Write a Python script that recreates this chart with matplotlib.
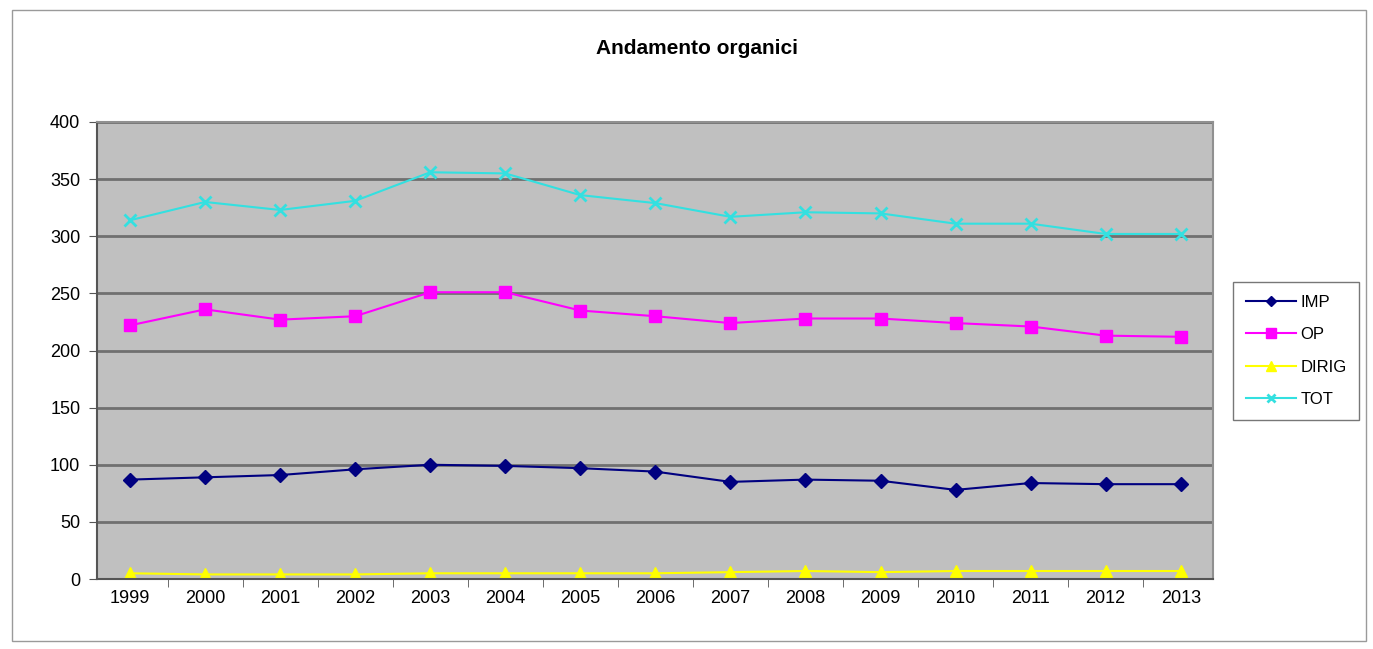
import matplotlib.pyplot as plt
from matplotlib.ticker import FixedLocator

years = ["1999", "2000", "2001", "2002", "2003", "2004", "2005", "2006",
         "2007", "2008", "2009", "2010", "2011", "2012", "2013"]
imp = [87, 89, 91, 96, 100, 99, 97, 94, 85, 87, 86, 78, 84, 83, 83]
op = [222, 236, 227, 230, 251, 251, 235, 230, 224, 228, 228, 224, 221, 213, 212]
dirig = [5, 4, 4, 4, 5, 5, 5, 5, 6, 7, 6, 7, 7, 7, 7]
tot = [314, 330, 323, 331, 356, 355, 336, 329, 317, 321, 320, 311, 311, 302, 302]


def main() -> None:
    plt.rcParams['font.family'] = ['Liberation Sans', 'DejaVu Sans']
    fig = plt.figure(figsize=(13.73, 6.49), dpi=100)
    W, H = 1373, 649
    ax = fig.add_axes([97 / W, 1 - 579 / H, (1213 - 97) / W, (579 - 122) / H])

    # outer chart border
    fig.patches.append(plt.Rectangle((12 / W, 1 - 641 / H), 1354 / W, 631 / H,
                                     transform=fig.transFigure, fill=False,
                                     edgecolor="#9a9a9a", linewidth=1.0))

    x = list(range(len(years)))
    ax.set_facecolor("#c0c0c0")
    ax.plot(x, imp, color="#000080", marker="D", markersize=7, linewidth=1.5, label="IMP")
    ax.plot(x, op, color="#ff00ff", marker="s", markersize=9, linewidth=1.5, label="OP")
    ax.plot(x, dirig, color="#ffff00", marker="^", markersize=9, linewidth=1.5, label="DIRIG")
    ax.plot(x, tot, color="#33e0e0", marker="x", markersize=8, markeredgewidth=2,
            linewidth=1.5, label="TOT")

    ax.set_xlim(-0.44, 14.43)
    ax.set_ylim(0, 400)
    ax.set_yticks(range(0, 401, 50))
    ax.set_xticks(x)
    ax.set_xticklabels(years)
    ax.xaxis.set_minor_locator(FixedLocator([i - 0.5 for i in range(16)]))
    ax.tick_params(axis="x", which="major", length=0, labelsize=13, pad=8)
    ax.tick_params(axis="x", which="minor", length=6, color="#555555")
    ax.tick_params(axis="y", length=6, labelsize=13, color="#555555", pad=6)
    ax.grid(True, axis="y", color="#707070", linewidth=2)
    ax.set_axisbelow(True)
    for side in ["top", "right"]:
        ax.spines[side].set_color("#909090")
        ax.spines[side].set_linewidth(1.5)
    for side in ["left", "bottom"]:
        ax.spines[side].set_color("#555555")
        ax.spines[side].set_linewidth(1.5)

    fig.text(697 / W, 1 - 48 / H, "Andamento organici", ha="center", va="center",
             fontsize=15, fontweight="bold")

    leg = ax.legend(loc="center left", bbox_to_anchor=(1233 / W, 1 - 351 / H),
                    bbox_transform=fig.transFigure, fontsize=12, frameon=True,
                    fancybox=False, edgecolor="#555555", handlelength=3.0,
                    labelspacing=1.05, borderpad=0.75, handletextpad=0.3,
                    markerscale=0.8, borderaxespad=0)
    leg.get_frame().set_linewidth(1.0)

    fig.savefig("out.png", dpi=100, facecolor="white")


if __name__ == "__main__":
    main()
